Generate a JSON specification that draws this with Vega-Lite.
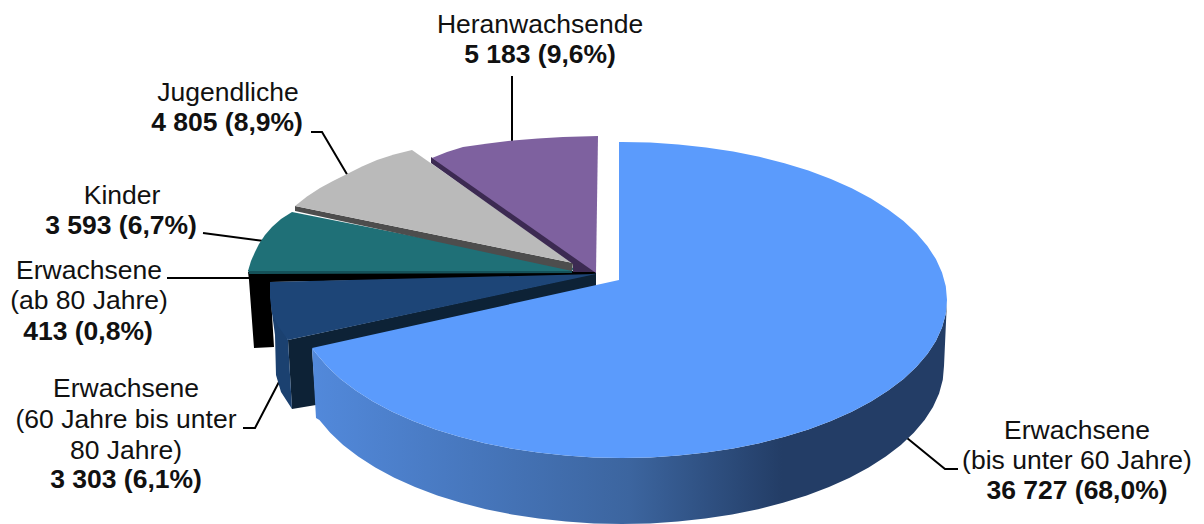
{"$schema":"https://vega.github.io/schema/vega-lite/v6.json","autosize":{"type":"fit","contains":"padding"},"width":1204,"height":524,"padding":0,"background":"white","view":{"stroke":null},"projection":{"type":"identity","scale":1,"translate":[0,0]},
"datasets":{
"leader":[
{"type":"Feature","properties":{"gruppe":"Heranwachsende"},"geometry":{"type":"LineString","coordinates":[[512,76],[512,142]]}},
{"type":"Feature","properties":{"gruppe":"Jugendliche"},"geometry":{"type":"LineString","coordinates":[[311,132],[322,132],[348,176]]}},
{"type":"Feature","properties":{"gruppe":"Kinder"},"geometry":{"type":"LineString","coordinates":[[203,233],[264,241]]}},
{"type":"Feature","properties":{"gruppe":"ab 80"},"geometry":{"type":"LineString","coordinates":[[167,278],[250,278]]}},
{"type":"Feature","properties":{"gruppe":"60 bis 80"},"geometry":{"type":"LineString","coordinates":[[243,428],[255,428],[280,380]]}},
{"type":"Feature","properties":{"gruppe":"bis 60"},"geometry":{"type":"LineString","coordinates":[[907,438],[945,469],[958,469]]}}
],
"flaechen":[
{"type":"Feature","properties":{"teil":"ab80"},"geometry":{"type":"Polygon","coordinates":[[[248,272],[596,271],[596,276],[270,282],[274,347],[254,348],[249,280],[248,272]]]}},
{"type":"Feature","properties":{"teil":"m60wand"},"geometry":{"type":"Polygon","coordinates":[[[596,273],[596,286],[312,349],[316,405],[292,409],[288,340],[596,273]]]}},
{"type":"Feature","properties":{"teil":"m60rand"},"geometry":{"type":"Polygon","coordinates":[[[271,300],[272,313],[275,335],[276,375],[281,392],[292,409],[288,340],[271,300]]]}},
{"type":"Feature","properties":{"teil":"m60"},"geometry":{"type":"Polygon","coordinates":[[[270,282],[596,274],[288,340],[278,326],[272,313],[270,298],[270,282]]]}},
{"type":"Feature","properties":{"teil":"kinderrand"},"geometry":{"type":"Polygon","coordinates":[[[248,270],[572,270],[572,273],[249,274],[248,270]]]}},
{"type":"Feature","properties":{"teil":"kinder"},"geometry":{"type":"Polygon","coordinates":[[[248,271],[251,261],[255,252],[259,244],[265,235],[272,227],[281,219],[292,212],[574,268],[572,271],[248,271]]]}},
{"type":"Feature","properties":{"teil":"jugendwand"},"geometry":{"type":"Polygon","coordinates":[[[295,206],[295,211],[572,271],[573,263],[295,206]]]}},
{"type":"Feature","properties":{"teil":"jugend"},"geometry":{"type":"Polygon","coordinates":[[[295,206],[307,196.5],[320,188],[333,181],[347,174],[362,166.5],[377,160],[394,154.5],[412,150],[573,263],[295,206]]]}},
{"type":"Feature","properties":{"teil":"heranwand"},"geometry":{"type":"Polygon","coordinates":[[[431,157],[431,163],[573,264],[573,272],[596,272],[596,262],[431,157]]]}},
{"type":"Feature","properties":{"teil":"heran"},"geometry":{"type":"Polygon","coordinates":[[[432,158],[447,152],[463,147],[488,143.5],[513,140.5],[538,138.5],[563,137],[598,136],[596,273],[432,158]]]}}
],
"mantel":[
{"type":"Feature","properties":{"teil":"mantel"},"geometry":{"type":"Polygon","coordinates":[[[947,300],[945.8,313.8],[942,327.4],[935.9,340.9],[927.4,354],[916.5,366.8],[903.5,379],[888.2,390.6],[871,401.6],[851.8,411.7],[830.9,421],[808.4,429.4],[784.5,436.8],[759.3,443.2],[733.2,448.5],[706.1,452.6],[678.4,455.6],[650.3,457.4],[622,458],[593.7,457.4],[565.6,455.6],[537.9,452.6],[510.8,448.5],[484.7,443.2],[459.5,436.8],[435.6,429.4],[413.1,421],[392.2,411.7],[373,401.6],[355.8,390.6],[340.5,379],[327.5,366.8],[316.6,354],[312,348],[316,418],[319.4,420],[330.2,432.8],[343.1,445],[358.2,456.6],[375.3,467.6],[394.3,477.7],[415,487],[437.3,495.4],[461,502.8],[485.9,509.2],[511.9,514.5],[538.7,518.6],[566.1,521.6],[593.9,523.4],[622,524],[650.1,523.4],[677.9,521.6],[705.3,518.6],[732.1,514.5],[758.1,509.2],[783,502.8],[806.7,495.4],[829,487],[849.7,477.7],[868.7,467.6],[885.8,456.6],[900.9,445],[913.8,432.8],[924.6,420],[933,406.9],[939.1,393.4],[942.8,379.8],[944,366],[947,300]]]}}
],
"haupt":[
{"type":"Feature","properties":{"gruppe":"Erwachsene (bis unter 60 Jahre)","anzahl":36727},"geometry":{"type":"Polygon","coordinates":[[[619,142],[622,142],[650.3,142.6],[678.4,144.4],[706.1,147.4],[733.2,151.5],[759.3,156.8],[784.5,163.2],[808.4,170.6],[830.9,179],[851.8,188.3],[871,198.4],[888.2,209.4],[903.5,221],[916.5,233.2],[927.4,246],[935.9,259.1],[942,272.6],[945.8,286.2],[947,300],[945.8,313.8],[942,327.4],[935.9,340.9],[927.4,354],[916.5,366.8],[903.5,379],[888.2,390.6],[871,401.6],[851.8,411.7],[830.9,421],[808.4,429.4],[784.5,436.8],[759.3,443.2],[733.2,448.5],[706.1,452.6],[678.4,455.6],[650.3,457.4],[622,458],[593.7,457.4],[565.6,455.6],[537.9,452.6],[510.8,448.5],[484.7,443.2],[459.5,436.8],[435.6,429.4],[413.1,421],[392.2,411.7],[373,401.6],[355.8,390.6],[340.5,379],[327.5,366.8],[316.6,354],[312,348],[619,280],[619,142]]]}}
],
"normal":[
{"text":"Heranwachsende","x":540,"y":25},
{"text":"Jugendliche","x":228,"y":93},
{"text":"Kinder","x":122,"y":196},
{"text":"Erwachsene","x":89,"y":271},
{"text":"(ab 80 Jahre)","x":89,"y":301},
{"text":"Erwachsene","x":126,"y":389},
{"text":"(60 Jahre bis unter","x":126,"y":420},
{"text":"80 Jahre)","x":126,"y":451},
{"text":"Erwachsene","x":1077,"y":431},
{"text":"(bis unter 60 Jahre)","x":1077,"y":461}
],
"fett":[
{"text":"5 183 (9,6%)","x":540,"y":55},
{"text":"4 805 (8,9%)","x":227,"y":123},
{"text":"3 593 (6,7%)","x":121,"y":226},
{"text":"413 (0,8%)","x":88,"y":332},
{"text":"3 303 (6,1%)","x":126,"y":480},
{"text":"36 727 (68,0%)","x":1077,"y":491}
]},
"layer":[
{"data":{"name":"leader"},"mark":{"type":"geoshape","filled":false,"stroke":"#000000","strokeWidth":2}},
{"data":{"name":"flaechen"},"mark":{"type":"geoshape","strokeWidth":0},"encoding":{"color":{"field":"properties.teil","type":"nominal","legend":null,"scale":{"domain":["ab80","m60wand","m60rand","m60","kinderrand","kinder","jugendwand","jugend","heranwand","heran"],"range":["#000000","#0D2236","#1B4170","#1D4577","#15525A","#1F7077","#4D4D4D","#BABABA","#3C2A52","#7E619F"]}}}},
{"data":{"name":"mantel"},"mark":{"type":"geoshape","strokeWidth":0,"color":{"gradient":"linear","x1":0,"x2":1,"y1":0,"y2":0,"stops":[{"offset":0,"color":"#5289DB"},{"offset":0.5,"color":"#3C659F"},{"offset":0.74,"color":"#233D66"},{"offset":1,"color":"#233D66"}]}}},
{"data":{"name":"haupt"},"mark":{"type":"geoshape","strokeWidth":0,"color":"#5B9BFC"}},
{"data":{"name":"normal"},"mark":{"type":"text","font":"Liberation Sans","fontSize":26.5,"color":"#111111","align":"center","baseline":"middle"},"encoding":{"longitude":{"field":"x","type":"quantitative"},"latitude":{"field":"y","type":"quantitative"},"text":{"field":"text","type":"nominal"}}},
{"data":{"name":"fett"},"mark":{"type":"text","font":"Liberation Sans","fontSize":26.5,"fontWeight":"bold","color":"#111111","align":"center","baseline":"middle"},"encoding":{"longitude":{"field":"x","type":"quantitative"},"latitude":{"field":"y","type":"quantitative"},"text":{"field":"text","type":"nominal"}}}
]}
